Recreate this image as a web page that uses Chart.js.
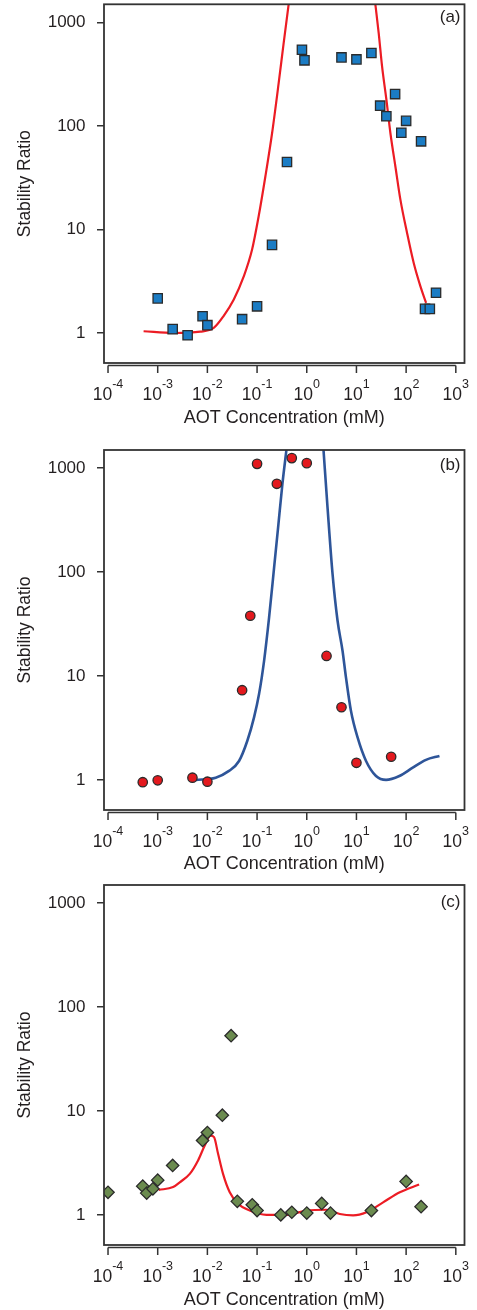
<!DOCTYPE html>
<html>
<head>
<meta charset="utf-8">
<script src="https://cdn.jsdelivr.net/npm/chart.js@4.4.0/dist/chart.umd.min.js"></script>
<style>
  html, body { margin: 0; padding: 0; background: #fff; }
  .panel { position: absolute; left: 0; width: 477px; }
  .panel canvas { display: block; }
</style>
</head>
<body>
<div class="panel" style="top:0px"><canvas id="chartA" width="477" height="428"></canvas></div>
<div class="panel" style="top:428px"><canvas id="chartB" width="477" height="446"></canvas></div>
<div class="panel" style="top:874px"><canvas id="chartC" width="477" height="436"></canvas></div>
<script>
// --- Axes ---
const xTicks = [1e-4, 1e-3, 1e-2, 1e-1, 1, 10, 100, 1000];
const xExponents = ['-4', '-3', '-2', '-1', '0', '1', '2', '3'];
const yTicks = [1, 10, 100, 1000];

// --- (a) squares + red fit ---
const concA  = [0.001, 0.002, 0.004, 0.008, 0.01, 0.05, 0.1, 0.2, 0.4, 0.8, 0.9, 5, 10, 20, 30, 40, 60, 80, 100, 200, 240, 300, 400];
const ratioA = [2.16, 1.09, 0.95, 1.45, 1.19, 1.36, 1.81, 7.1, 44.8, 545, 430, 459, 439, 506, 157, 124, 203, 86, 112, 71, 1.71, 1.71, 2.45];
const fitA1X = [0.00052, 0.0021, 0.0072, 0.0134, 0.021, 0.0338, 0.0537, 0.0794, 0.1076, 0.1469, 0.2004, 0.2723, 0.3428, 0.4325];
const fitA1Y = [1.04, 1.00, 1.03, 1.12, 1.45, 2.1, 3.5, 6.4, 13.4, 32.5, 85, 260, 631, 1500];
const fitA2X = [24.0, 28.05, 32.8, 40.1, 48.3, 60.8, 76.7, 104.7, 142.2, 194.1, 252.5];
const fitA2Y = [1500, 789, 376, 179, 85, 40.6, 19.4, 9.2, 4.74, 2.82, 1.95];

// --- (b) circles + blue fit ---
const concB  = [0.0005, 0.001, 0.005, 0.01, 0.05, 0.073, 0.1, 0.25, 0.5, 1, 2.5, 5, 10, 50];
const ratioB = [0.95, 0.99, 1.05, 0.96, 7.3, 38, 1100, 707, 1250, 1118, 15.6, 5.0, 1.46, 1.67];
const fitB1X = [0.00579, 0.01469, 0.02723, 0.04335, 0.06368, 0.0869, 0.1096, 0.1384, 0.1746, 0.2203, 0.2692, 0.3236, 0.3899];
const fitB1Y = [1.0, 1.05, 1.22, 1.52, 2.38, 4.0, 6.7, 14, 36.6, 111, 290, 706, 1500];
const fitB2X = [2.173, 2.618, 3.304, 4.169, 5.248, 6.152, 7.762, 10.54, 15.6, 24.77, 39.45, 73.11, 135.8, 251.2, 468.8];
const fitB2Y = [1500, 420, 96, 34, 17.5, 9.7, 4.6, 2.56, 1.52, 1.09, 1.0, 1.09, 1.31, 1.56, 1.70];

// --- (c) diamonds + red fit ---
const concC  = [0.0001, 0.0005, 0.0006, 0.0008, 0.001, 0.002, 0.008, 0.01, 0.02, 0.03, 0.04, 0.08, 0.1, 0.3, 0.5, 1, 2, 3, 20, 100, 200];
const ratioC = [1.65, 1.89, 1.62, 1.78, 2.16, 2.99, 5.2, 6.2, 9.1, 53, 1.35, 1.25, 1.10, 1.0, 1.06, 1.04, 1.29, 1.04, 1.10, 2.10, 1.20];
const fitCX = [0.00105, 0.00204, 0.00278, 0.00442, 0.00649, 0.00885, 0.01153, 0.01361, 0.01641, 0.02065, 0.02818, 0.0414, 0.07129, 0.1545, 0.3908, 0.9863, 2.495, 4.624, 8.57, 15.92, 34.36, 74.65, 182.4];
const fitCY = [1.74, 1.85, 2.06, 2.48, 3.34, 4.66, 5.8, 5.6, 3.87, 2.48, 1.65, 1.28, 1.10, 1.0, 1.0, 1.10, 1.12, 1.02, 0.99, 1.06, 1.32, 1.65, 1.96];

const FONT = '"Liberation Sans", Arial, Helvetica, sans-serif';
const INK = '#231f20';

function pts(xs, ys) {
    return xs.map((x, i) => ({ x: x, y: ys[i] }));
}

// box, offset x axis with 10^n labels, panel letter
const framePlugin = {
    id: 'frame',
    afterDraw(chart, args, opts) {
        const { ctx, chartArea: a } = chart;
        const xs = chart.scales.x;
        ctx.save();
        ctx.strokeStyle = '#333';
        ctx.lineWidth = 1.8;
        ctx.strokeRect(a.left, a.top, a.right - a.left, a.bottom - a.top);

        const y0 = a.bottom + 2.5;
        ctx.lineWidth = 1.5;
        ctx.beginPath();
        ctx.moveTo(xs.getPixelForValue(xTicks[0]), y0);
        ctx.lineTo(xs.getPixelForValue(xTicks[xTicks.length - 1]), y0);
        xTicks.forEach(v => {
            const px = xs.getPixelForValue(v);
            ctx.moveTo(px, y0);
            ctx.lineTo(px, y0 + 7.5);
        });
        ctx.stroke();

        ctx.fillStyle = INK;
        ctx.textAlign = 'left';
        ctx.textBaseline = 'alphabetic';
        xTicks.forEach((v, i) => {
            ctx.font = '17.5px ' + FONT;
            const w1 = ctx.measureText('10').width;
            ctx.font = '12.5px ' + FONT;
            const w2 = ctx.measureText(xExponents[i]).width;
            const left = xs.getPixelForValue(v) - (w1 + w2) / 2;
            ctx.font = '17.5px ' + FONT;
            ctx.fillText('10', left, a.bottom + 36.5);
            ctx.font = '12.5px ' + FONT;
            ctx.fillText(xExponents[i], left + w1, a.bottom + 25);
        });

        ctx.font = '17px ' + FONT;
        ctx.textAlign = 'right';
        ctx.textBaseline = 'middle';
        ctx.fillText(opts.label, a.right - 4, a.top + opts.labelDy);
        ctx.restore();
    }
};

function makePanel(p) {
    const datasets = [{
        data: pts(p.conc, p.ratio),
        pointStyle: p.marker,
        pointRadius: p.radius,
        pointBackgroundColor: p.fill,
        pointBorderColor: '#2b2b2b',
        pointBorderWidth: 1.3,
        showLine: false
    }];
    p.fits.forEach(f => {
        datasets.push({
            data: pts(f[0], f[1]),
            showLine: true,
            pointRadius: 0,
            borderColor: p.lineColor,
            borderWidth: p.lineWidth,
            cubicInterpolationMode: 'monotone',
            fill: false
        });
    });

    new Chart(document.getElementById(p.id), {
        type: 'scatter',
        data: { datasets: datasets },
        plugins: [framePlugin],
        options: {
            responsive: false,
            animation: false,
            events: [],
            layout: {
                autoPadding: false,
                padding: { left: 0, right: 12.5, top: p.padTop, bottom: 0 }
            },
            plugins: {
                legend: { display: false },
                tooltip: { enabled: false },
                frame: { label: p.label, labelDy: p.labelDy }
            },
            scales: {
                x: {
                    type: 'logarithmic',
                    min: 8.3e-5,
                    max: 1496,
                    bounds: 'data',
                    grid: { display: false },
                    border: { display: false },
                    ticks: { display: false },
                    afterBuildTicks: s => { s.ticks = xTicks.map(v => ({ value: v })); },
                    afterFit: s => { s.height = p.xHeight; s.paddingLeft = 0; s.paddingRight = 0; },
                    title: {
                        display: true,
                        text: 'AOT Concentration (mM)',
                        color: INK,
                        font: { family: FONT, size: 18, lineHeight: 1 },
                        padding: { top: 0, bottom: 1 }
                    }
                },
                y: {
                    type: 'logarithmic',
                    min: 0.513,
                    max: 1496,
                    bounds: 'data',
                    border: { display: false },
                    grid: {
                        display: true,
                        drawOnChartArea: false,
                        drawTicks: true,
                        tickLength: 7,
                        color: '#333',
                        lineWidth: 1.5
                    },
                    ticks: {
                        color: INK,
                        padding: 11.5,
                        font: { family: FONT, size: 17 },
                        callback: v => String(v)
                    },
                    afterBuildTicks: s => { s.ticks = yTicks.map(v => ({ value: v })); },
                    afterFit: s => { s.width = 104; s.paddingTop = 0; s.paddingBottom = 0; },
                    title: {
                        display: true,
                        text: 'Stability Ratio',
                        color: INK,
                        font: { family: FONT, size: 17.5, lineHeight: 1 },
                        padding: { top: 16, bottom: 0 }
                    }
                }
            }
        }
    });
}

makePanel({
    id: 'chartA', conc: concA, ratio: ratioA,
    fits: [[fitA1X, fitA1Y], [fitA2X, fitA2Y]],
    marker: 'rect', radius: 6.6, fill: '#1b7cc4',
    lineColor: '#ec1c24', lineWidth: 2.2,
    label: '(a)', labelDy: 13, padTop: 4.3, xHeight: 65
});
makePanel({
    id: 'chartB', conc: concB, ratio: ratioB,
    fits: [[fitB1X, fitB1Y], [fitB2X, fitB2Y]],
    marker: 'circle', radius: 4.7, fill: '#e3191e',
    lineColor: '#2e5599', lineWidth: 2.6,
    label: '(b)', labelDy: 15, padTop: 22, xHeight: 64
});
makePanel({
    id: 'chartC', conc: concC, ratio: ratioC,
    fits: [[fitCX, fitCY]],
    marker: 'rectRot', radius: 6.2, fill: '#6b8b4f',
    lineColor: '#ec1c24', lineWidth: 2.2,
    label: '(c)', labelDy: 17, padTop: 11, xHeight: 65
});
</script>
</body>
</html>
